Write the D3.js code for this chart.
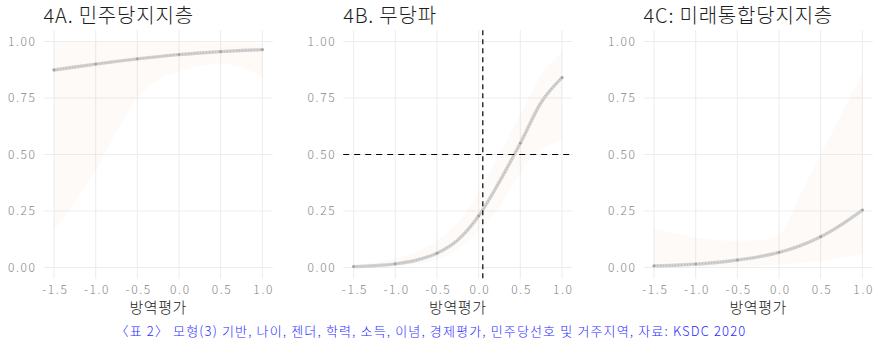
<!DOCTYPE html>
<html>
<head>
<meta charset="utf-8">
<script src="https://cdn.jsdelivr.net/npm/d3@7"></script>
<style>
  html, body { margin: 0; padding: 0; background: #fff; }
  svg { display: block; font-family: "Noto Sans CJK KR", "Noto Sans", sans-serif; }
</style>
</head>
<body>
<svg id="chart" width="874" height="342"></svg>
<script>
// 방역평가 values at which predicted probabilities are shown
const evalPoints = [-1.5, -1.25, -1.0, -0.75, -0.5, -0.25, 0, 0.25, 0.5, 0.75, 1.0];

// 4A. 민주당지지층
const demFit   = [0.874, 0.887, 0.900, 0.912, 0.923, 0.933, 0.942, 0.949, 0.955, 0.960, 0.964];
const demLower = [0.166, 0.290, 0.430, 0.600, 0.750, 0.830, 0.866, 0.893, 0.903, 0.885, 0.844];
const demUpper = [0.997, 0.997, 0.997, 0.997, 0.997, 0.996, 0.996, 0.995, 0.994, 0.994, 0.993];

// 4B. 무당파
const indFit   = [0.004, 0.008, 0.016, 0.032, 0.063, 0.122, 0.228, 0.380, 0.550, 0.730, 0.840];
const indLower = [0.001, 0.003, 0.007, 0.016, 0.035, 0.080, 0.160, 0.270, 0.420, 0.520, 0.560];
const indUpper = [0.012, 0.022, 0.040, 0.070, 0.120, 0.200, 0.330, 0.500, 0.680, 0.850, 0.955];

// 4C: 미래통합당지지층
const upFit   = [0.007, 0.010, 0.015, 0.022, 0.033, 0.047, 0.067, 0.096, 0.136, 0.190, 0.254];
const upLower = [0.0003, 0.0006, 0.001, 0.002, 0.004, 0.008, 0.013, 0.020, 0.030, 0.045, 0.060];
const upUpper = [0.173, 0.150, 0.133, 0.122, 0.118, 0.120, 0.145, 0.320, 0.500, 0.680, 0.860];

// reference lines drawn on the 무당파 panel
const refX = 0.05;
const refY = 0.5;

const panelTitles = ["4A. 민주당지지층", "4B. 무당파", "4C: 미래통합당지지층"];
const xTicks = [-1.5, -1.0, -0.5, 0.0, 0.5, 1.0];
const xTickLabels = ["-1.5", "-1.0", "-0.5", "0.0", "0.5", "1.0"];
const yTicks = [0, 0.25, 0.5, 0.75, 1.0];
const yTickLabels = ["0.00", "0.25", "0.50", "0.75", "1.00"];
const xTitle = "방역평가";
const caption = "〈표 2〉 모형(3) 기반, 나이, 젠더, 학력, 소득, 이념, 경제평가, 민주당선호 및 거주지역, 자료: KSDC 2020";

const panels = [
  { title: panelTitles[0], fit: demFit, lower: demLower, upper: demUpper, refs: false },
  { title: panelTitles[1], fit: indFit, lower: indLower, upper: indUpper, refs: true },
  { title: panelTitles[2], fit: upFit,  lower: upLower,  upper: upUpper,  refs: false }
];

const svg = d3.select("#chart");
const panelLefts = [43.6, 343.2, 643.6];
const panelWidth = 229.2;
const plotTop = 30.2, plotBottom = 278.8;

const gridColor = "#ededed";
const tickColor = "#858585";

panels.forEach((p, i) => {
  const left = panelLefts[i];
  const x = d3.scaleLinear().domain([-1.625, 1.125]).range([left, left + panelWidth]);
  const y = d3.scaleLinear().domain([-0.05, 1.05]).range([plotBottom, plotTop]);
  const g = svg.append("g");

  // grid
  g.selectAll(".gx").data(xTicks).join("line")
    .attr("x1", d => x(d)).attr("x2", d => x(d))
    .attr("y1", plotTop).attr("y2", plotBottom)
    .attr("stroke", gridColor).attr("stroke-width", 1.1);
  g.selectAll(".gy").data(yTicks).join("line")
    .attr("x1", left).attr("x2", left + panelWidth)
    .attr("y1", d => y(d)).attr("y2", d => y(d))
    .attr("stroke", gridColor).attr("stroke-width", 1.1);

  // axes (labels only, no domain or ticks)
  const xAxis = d3.axisBottom(x).tickValues(xTicks)
    .tickFormat((d, k) => xTickLabels[k]).tickSize(0).tickPadding(0);
  const xa = g.append("g").attr("transform", `translate(0,${plotBottom + 7})`).call(xAxis);
  xa.select(".domain").remove();
  xa.selectAll("text").attr("fill", tickColor).attr("font-size", 12)
    .attr("font-family", "'Noto Sans CJK KR', sans-serif").attr("dy", "0.71em")
    .attr("font-weight", 300).attr("letter-spacing", "1.6px")
    .attr("dx", "0.8px");

  const yAxis = d3.axisLeft(y).tickValues(yTicks)
    .tickFormat((d, k) => yTickLabels[k]).tickSize(0).tickPadding(0);
  const ya = g.append("g").attr("transform", `translate(${left - 7},0)`).call(yAxis);
  ya.select(".domain").remove();
  ya.selectAll("text").attr("fill", tickColor).attr("font-size", 12)
    .attr("font-family", "'Noto Sans CJK KR', sans-serif")
    .attr("font-weight", 300).attr("letter-spacing", "1.6px");

  // confidence band
  const area = d3.area()
    .x((d, k) => x(evalPoints[k]))
    .y0((d, k) => y(p.lower[k]))
    .y1((d, k) => y(p.upper[k]))
    .curve(d3.curveMonotoneX);
  g.append("path").datum(p.fit).attr("d", area)
    .attr("fill", "#f4a582").attr("fill-opacity", 0.06);

  // predicted probability
  const line = d3.line()
    .x((d, k) => x(evalPoints[k]))
    .y(d => y(d))
    .curve(d3.curveMonotoneX);
  g.append("path").datum(p.fit).attr("d", line)
    .attr("fill", "none").attr("stroke", "#d2d2d2").attr("stroke-width", 3.4)
    .attr("stroke-linecap", "round");
  g.append("path").datum(p.fit).attr("d", line)
    .attr("fill", "none").attr("stroke", "#a0a0a0").attr("stroke-width", 1.2)
    .attr("stroke-dasharray", "1,2").attr("stroke-opacity", 0.55);
  g.selectAll(".knot").data(p.fit.filter((d, k) => k % 2 === 0)).join("circle")
    .attr("cx", (d, k) => x(evalPoints[k * 2]))
    .attr("cy", d => y(d))
    .attr("r", 1.4).attr("fill", "#8f8f8f").attr("fill-opacity", 0.7);

  // reference lines
  if (p.refs) {
    g.append("line")
      .attr("x1", left).attr("x2", left + panelWidth)
      .attr("y1", y(refY)).attr("y2", y(refY))
      .attr("stroke", "#000").attr("stroke-width", 1.2)
      .attr("stroke-dasharray", "6,5");
    g.append("line")
      .attr("x1", x(refX)).attr("x2", x(refX))
      .attr("y1", plotTop).attr("y2", plotBottom)
      .attr("stroke", "#000").attr("stroke-width", 1.2)
      .attr("stroke-dasharray", "5,4");
  }

  // panel title
  g.append("text")
    .attr("x", left).attr("y", 23)
    .attr("font-size", 20).attr("font-weight", 300)
    .attr("letter-spacing", "0.8px")
    .attr("fill", "#1e1e1e")
    .text(p.title);

  // x-axis title
  g.append("text")
    .attr("x", (x(-1.5) + x(1.0)) / 2).attr("y", 313)
    .attr("text-anchor", "middle")
    .attr("font-size", 15).attr("font-weight", 300)
    .attr("letter-spacing", "0.6px")
    .attr("fill", "#222")
    .text(xTitle);
});

// caption
svg.append("text")
  .attr("x", 431).attr("y", 335.5)
  .attr("text-anchor", "middle")
  .attr("font-size", 13).attr("font-weight", 300)
  .attr("letter-spacing", "1.15px")
  .attr("fill", "#2a2aff")
  .text(caption);
</script>
</body>
</html>
